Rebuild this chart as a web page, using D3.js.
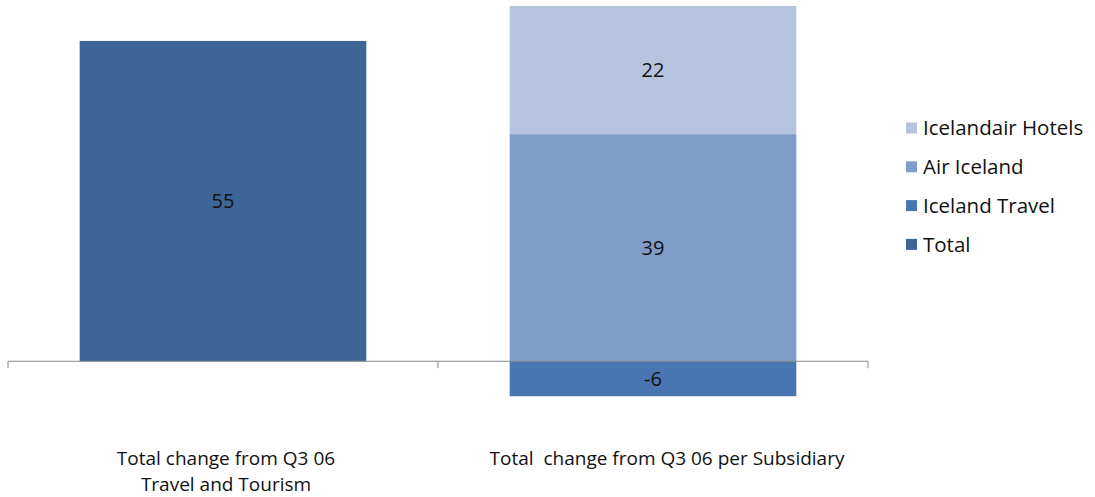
<!DOCTYPE html>
<html>
<head>
<meta charset="utf-8">
<script src="https://cdn.jsdelivr.net/npm/d3@7"></script>
<style>
  body { margin: 0; background: #fff; }
  svg { font-family: "Open Sans", sans-serif; }
</style>
</head>
<body>
<div id="chart"></div>
<script>
// datos
const categorias = ["Travel and Tourism", "per Subsidiary"];
const etiquetasCategoria = [
    ["Total change from Q3 06", "Travel and Tourism"],
    ["Total  change from Q3 06 per Subsidiary"]
];
const series = ["Total", "Iceland Travel", "Air Iceland", "Icelandair Hotels"];
const total = [55, 0];
const icelandTravel = [0, -6];
const airIceland = [0, 39];
const icelandairHotels = [0, 22];
const colores = ["#3d6596", "#4876b0", "#7f9cc8", "#b4c3de"];

const valores = [total, icelandTravel, airIceland, icelandairHotels];

const width = 1095, height = 497;
const svg = d3.select("#chart").append("svg")
    .attr("width", width)
    .attr("height", height);

const x = d3.scaleBand()
    .domain(categorias)
    .range([8, 868])
    .paddingInner(1 / 3)
    .paddingOuter(1 / 6);

const y = d3.scaleLinear()
    .domain([-10, 61])
    .range([419.5, 6]);

// apilar positivos y negativos por separado
const barras = [];
categorias.forEach((c, i) => {
    let pos = 0, neg = 0;
    valores.forEach((serie, s) => {
        const v = serie[i];
        if (!v) return;
        let y0, y1;
        if (v >= 0) { y0 = pos; y1 = pos + v; pos = y1; }
        else { y0 = neg; y1 = neg + v; neg = y1; }
        barras.push({ cat: c, serie: s, v, y0, y1 });
    });
});

svg.selectAll("rect.bar")
    .data(barras)
    .enter().append("rect")
    .attr("class", "bar")
    .attr("x", d => x(d.cat))
    .attr("width", x.bandwidth())
    .attr("y", d => y(Math.max(d.y0, d.y1)))
    .attr("height", d => Math.abs(y(d.y0) - y(d.y1)))
    .attr("fill", d => colores[d.serie]);

svg.selectAll("text.valor")
    .data(barras)
    .enter().append("text")
    .attr("class", "valor")
    .attr("x", d => x(d.cat) + x.bandwidth() / 2)
    .attr("y", d => y((d.y0 + d.y1) / 2))
    .attr("dy", "0.35em")
    .attr("text-anchor", "middle")
    .attr("font-size", 20)
    .attr("fill", "#111")
    .text(d => d.v);

// eje
const eje = svg.append("g");
eje.append("line")
    .attr("x1", 8).attr("x2", 868)
    .attr("y1", y(0)).attr("y2", y(0))
    .attr("stroke", "#868686");
[8, 438, 868].forEach(t => {
    eje.append("line")
        .attr("x1", t).attr("x2", t)
        .attr("y1", y(0)).attr("y2", y(0) + 7)
        .attr("stroke", "#868686");
});

etiquetasCategoria.forEach((lineas, i) => {
    lineas.forEach((l, j) => {
        svg.append("text")
            .attr("text-anchor", "middle")
            .attr("font-size", 19)
            .attr("fill", "#111")
            .attr("x", x(categorias[i]) + x.bandwidth() / 2 + (i === 1 ? 14 : 3))
            .attr("y", 465 + j * 26)
            .attr("xml:space", "preserve")
            .text(l);
    });
});

// leyenda
const leyenda = svg.append("g");
const orden = [3, 2, 1, 0];
orden.forEach((s, k) => {
    const yy = 128 + k * 38.8;
    leyenda.append("rect")
        .attr("x", 906).attr("y", yy - 5.5)
        .attr("width", 11).attr("height", 11)
        .attr("fill", colores[s]);
    leyenda.append("text")
        .attr("x", 923).attr("y", yy)
        .attr("dy", "0.35em")
        .attr("font-size", 20.5)
        .attr("fill", "#111")
        .text(series[s]);
});
</script>
</body>
</html>
